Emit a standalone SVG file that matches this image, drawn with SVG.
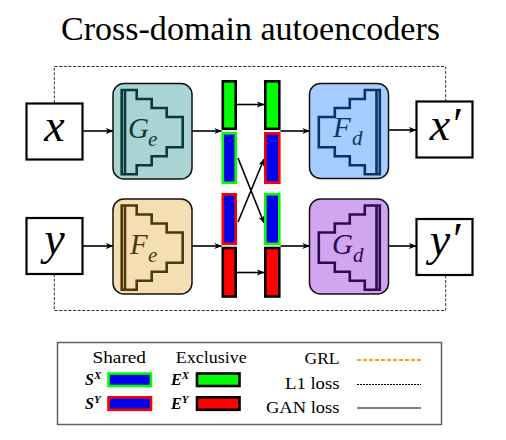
<svg xmlns="http://www.w3.org/2000/svg" xmlns:xlink="http://www.w3.org/1999/xlink" width="506" height="440" viewBox="0 0 506 440">
<style>
.t{font-family:'Liberation Serif','DejaVu Serif',serif;fill:#000}
.m{font-family:'Liberation Serif','DejaVu Serif',serif;font-style:italic}
.io{fill:#fff;stroke:#000;stroke-width:2.2}
.blk{stroke:#111;stroke-width:1.5}
.conn{stroke:#000;stroke-width:1.6;fill:none}
.dash{stroke:#333;stroke-width:1;fill:none;stroke-dasharray:3 1.6}
.stair{fill:none;stroke:currentColor;stroke-width:2.6;stroke-linejoin:miter}
.g{fill:#00ff00;stroke:#000;stroke-width:2.6}
.r{fill:#ff0000;stroke:#000;stroke-width:2.6}
.bg{fill:#0000ee;stroke:#00ff00;stroke-width:2.6}
.br{fill:#0000ee;stroke:#ff0000;stroke-width:2.6}
</style>
<defs>
<marker id="arr" viewBox="0 0 10 10" refX="9.5" refY="5" markerWidth="7.5" markerHeight="7.5" markerUnits="userSpaceOnUse" orient="auto">
<path d="M0,1 L10,5 L0,9 L2.8,5 z" fill="#000"/>
</marker>
<g id="stair" class="stair">
<polygon points="8.7,6.5 23.7,6.5 23.7,15.5 38.7,15.5 38.7,24.5 53.7,24.5 53.7,33.5 69.7,33.5 69.7,63.7 53.7,63.7 53.7,72.7 38.7,72.7 38.7,81.7 23.7,81.7 23.7,90.7 8.7,90.7"/>
<line x1="12" y1="6.5" x2="12" y2="90.7"/>
</g>
</defs>
<rect width="506" height="440" fill="#fff"/>
<text class="t" font-family="Liberation Serif, DejaVu Serif, serif" x="250.5" y="40" font-size="33" text-anchor="middle" textLength="379" lengthAdjust="spacingAndGlyphs">Cross-domain autoencoders</text>

<g id="connectors">
<path class="dash" d="M54.3,103 V66.5 H445.7 V101.5"/>
<path class="dash" d="M54.3,274 V310.5 H445.7 V275"/>
<line class="conn" x1="83" y1="131" x2="113" y2="131" marker-end="url(#arr)"/>
<line class="conn" x1="83" y1="246" x2="113" y2="246" marker-end="url(#arr)"/>
<line class="conn" x1="192" y1="131" x2="221.5" y2="131" marker-end="url(#arr)"/>
<line class="conn" x1="192" y1="246" x2="221.5" y2="246" marker-end="url(#arr)"/>
<line class="conn" x1="237" y1="104.5" x2="264" y2="104.5" marker-end="url(#arr)"/>
<line class="conn" x1="237" y1="272.5" x2="264" y2="272.5" marker-end="url(#arr)"/>
<line class="conn" x1="238" y1="158" x2="264" y2="223" marker-end="url(#arr)"/>
<line class="conn" x1="238" y1="222" x2="264" y2="159" marker-end="url(#arr)"/>
<line class="conn" x1="280.5" y1="131" x2="309.5" y2="131" marker-end="url(#arr)"/>
<line class="conn" x1="280.5" y1="246" x2="309.5" y2="246" marker-end="url(#arr)"/>
<line class="conn" x1="388.5" y1="130" x2="416" y2="130" marker-end="url(#arr)"/>
<line class="conn" x1="388.5" y1="246" x2="416" y2="246" marker-end="url(#arr)"/>
</g>

<g id="node-x">
<rect class="io" x="26.5" y="103.5" width="56" height="56"/>
<text class="m" font-family="Liberation Serif, DejaVu Serif, serif" x="54.5" y="141" font-size="46" text-anchor="middle">x</text>
</g>
<g id="node-y">
<rect class="io" x="26.5" y="218" width="56" height="56"/>
<text class="m" font-family="Liberation Serif, DejaVu Serif, serif" x="54.5" y="254" font-size="46" text-anchor="middle">y</text>
</g>

<g id="node-Ge">
<rect class="blk" x="113" y="83.5" width="79" height="95.5" rx="11" fill="#a9d4d3"/>
<use xlink:href="#stair" transform="translate(113,83.5)" style="color:#0b3a3a"/>
<text class="m" font-family="Liberation Serif, DejaVu Serif, serif" x="128" y="138" font-size="29" fill="#0b3a3a">G<tspan x="148" y="146" font-size="21">e</tspan></text>
</g>
<g id="node-Fe">
<rect class="blk" x="113" y="199" width="79" height="95" rx="11" fill="#f5dfb2"/>
<use xlink:href="#stair" transform="translate(113,199)" style="color:#4b3a0c"/>
<text class="m" font-family="Liberation Serif, DejaVu Serif, serif" x="130" y="254" font-size="29" fill="#4b3a0c">F<tspan x="148" y="262" font-size="21">e</tspan></text>
</g>
<g id="node-Fd">
<rect class="blk" x="309.5" y="83.5" width="79" height="95" rx="11" fill="#a6cdfd"/>
<use xlink:href="#stair" transform="translate(388.5,83.5) scale(-1,1)" style="color:#0b3463"/>
<text class="m" font-family="Liberation Serif, DejaVu Serif, serif" x="333" y="137" font-size="29" fill="#0b3463">F<tspan x="352" y="145" font-size="21">d</tspan></text>
</g>
<g id="node-Gd">
<rect class="blk" x="309.5" y="199" width="79" height="95" rx="11" fill="#d2a5f1"/>
<use xlink:href="#stair" transform="translate(388.5,199) scale(-1,1)" style="color:#2c0b4e"/>
<text class="m" font-family="Liberation Serif, DejaVu Serif, serif" x="332" y="254" font-size="29" fill="#2c0b4e">G<tspan x="353" y="262" font-size="21">d</tspan></text>
</g>

<g id="node-latent-enc">
<rect class="g" x="222.8" y="81.3" width="12.9" height="47.5"/>
<rect class="bg" x="222.8" y="133.3" width="12.9" height="49.5"/>
<rect class="br" x="222.8" y="194.3" width="12.9" height="49.5"/>
<rect class="r" x="222.8" y="248" width="12.9" height="48.5"/>
</g>
<g id="node-latent-dec">
<rect class="g" x="265.3" y="81.3" width="14" height="47.5"/>
<rect class="br" x="265.3" y="133.3" width="14" height="49.5"/>
<rect class="bg" x="265.3" y="194.3" width="14" height="49.5"/>
<rect class="r" x="265.3" y="248" width="14" height="48.5"/>
</g>

<g id="node-xp">
<rect class="io" x="416.5" y="101.5" width="56" height="56"/>
<text class="m" font-family="Liberation Serif, DejaVu Serif, serif" x="445" y="140" font-size="46" text-anchor="middle">x′</text>
</g>
<g id="node-yp">
<rect class="io" x="416.5" y="219" width="56" height="56"/>
<text class="m" font-family="Liberation Serif, DejaVu Serif, serif" x="445" y="255" font-size="46" text-anchor="middle">y′</text>
</g>

<g id="legend" font-family="Liberation Serif, DejaVu Serif, serif">
<rect x="57.5" y="342.5" width="384" height="82" fill="#fff" stroke="#705a5a" stroke-width="1.5"/>
<text class="t" x="92.5" y="363" font-size="16" textLength="53.5" lengthAdjust="spacingAndGlyphs">Shared</text>
<text class="t" x="175.7" y="363" font-size="16" textLength="71" lengthAdjust="spacingAndGlyphs">Exclusive</text>
<text class="m" x="85" y="385" font-size="16" font-weight="bold">S<tspan dy="-6" font-size="11">X</tspan></text>
<text class="m" x="85" y="409" font-size="16" font-weight="bold">S<tspan dy="-6" font-size="11">Y</tspan></text>
<text class="m" x="171" y="385" font-size="16" font-weight="bold">E<tspan dy="-6" font-size="11">X</tspan></text>
<text class="m" x="171" y="409" font-size="16" font-weight="bold">E<tspan dy="-6" font-size="11">Y</tspan></text>
<rect class="bg" x="108.5" y="373.5" width="42.5" height="12.5" stroke-width="2.4"/>
<rect class="br" x="108.5" y="397.3" width="42.5" height="12.5" stroke-width="2.4"/>
<rect class="g" x="197" y="373.5" width="42.5" height="12.5" stroke-width="2.4"/>
<rect class="r" x="197" y="397.3" width="42.5" height="12.5" stroke-width="2.4"/>
<text class="t" x="339.5" y="364" font-size="16" text-anchor="end" textLength="35" lengthAdjust="spacingAndGlyphs">GRL</text>
<text class="t" x="339.5" y="389" font-size="16" text-anchor="end" textLength="54.5" lengthAdjust="spacingAndGlyphs">L1 loss</text>
<text class="t" x="339.5" y="413" font-size="16" text-anchor="end" textLength="73.5" lengthAdjust="spacingAndGlyphs">GAN loss</text>
<line x1="357" y1="360" x2="421" y2="360" stroke="#ff9a10" stroke-width="2" stroke-dasharray="4 2"/>
<line x1="357" y1="384.5" x2="421" y2="384.5" stroke="#000" stroke-width="1" stroke-dasharray="2 1"/>
<line x1="357" y1="408" x2="421" y2="408" stroke="#000" stroke-width="1.2"/>
</g>
</svg>
